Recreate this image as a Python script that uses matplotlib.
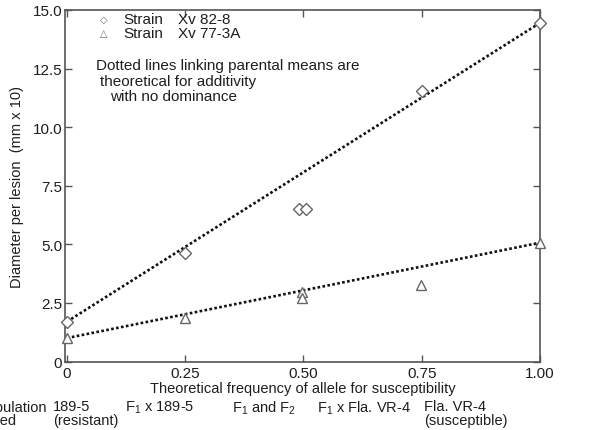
import numpy as np
from matplotlib import pyplot as plt

plt.rcParams['font.family'] = ['Liberation Sans', 'DejaVu Sans']
plt.rcParams['mathtext.default'] = 'regular'

# data
freq_828 = [0.0, 0.25, 0.49, 0.505, 0.75, 1.0]
diam_828 = [1.7, 4.65, 6.5, 6.5, 11.55, 14.45]
freq_773 = [0.0, 0.25, 0.497, 0.497, 0.748, 1.0]
diam_773 = [1.0, 1.87, 2.95, 2.7, 3.25, 5.07]

xticks = [0, 0.25, 0.5, 0.75, 1.0]
xticklabels = ['0', '0.25', '0.50', '0.75', '1.00']
yticks = [0, 2.5, 5.0, 7.5, 10.0, 12.5, 15.0]
yticklabels = ['0', '2.5', '5.0', '7.5', '10.0', '12.5', '15.0']

populations = ['189-5\n(resistant)', r'F$_1$ x 189-5', r'F$_1$ and F$_2$',
               r'F$_1$ x Fla. VR-4', 'Fla. VR-4\n(susceptible)']

W, H = 602, 431
ink = '#1e1e1e'

fig = plt.figure(figsize=(W / 100, H / 100), dpi=100)
ax = fig.add_axes([65 / W, 1 - 362.5 / H, 475 / W, 351.5 / H])


def px(x, y):
    return x / W, 1 - y / H


# dotted lines linking parental means
ax.plot([freq_828[0], freq_828[-1]], [diam_828[0], diam_828[-1]],
        color='#111', lw=1.9, ls=(0, (1, 0.9)), zorder=2)
ax.plot([freq_773[0], freq_773[-1]], [diam_773[0], diam_773[-1]],
        color='#111', lw=1.9, ls=(0, (1, 0.9)), zorder=2)

ax.plot(freq_828, diam_828, 'D', ms=6, mfc='white', mec='#666', mew=1.0,
        ls='none', zorder=3, clip_on=False)
ax.plot(freq_773, diam_773, '^', ms=6.5, mfc='white', mec='#666', mew=1.0,
        ls='none', zorder=3, clip_on=False)

ax.set_xlim(-0.004, 1.0)
ax.set_ylim(0, 15.0)
ax.set_xticks(xticks)
ax.set_xticklabels(xticklabels)
ax.set_yticks(yticks)
ax.set_yticklabels(yticklabels)
ax.tick_params(direction='in', top=True, right=True, length=5, width=1,
               color='#555', labelsize=11, labelcolor=ink)
ax.tick_params(axis='y', pad=2)
ax.tick_params(axis='x', pad=3)
for s in ax.spines.values():
    s.set_color('#555')
    s.set_linewidth(1.2)

ax.set_xlabel('Theoretical frequency of allele for susceptibility',
              fontsize=10.5, color=ink, labelpad=1)
ax.set_ylabel('Diameter per lesion  (mm x 10)', fontsize=10.5, color=ink,
              labelpad=6)

# legend drawn as text the way it is in the figure
fig.text(*px(104, 20), '\u25c7', fontsize=7, color='#666', ha='center',
         va='center', family='DejaVu Sans')
fig.text(*px(104, 34), '\u25b3', fontsize=7, color='#666', ha='center',
         va='center', family='DejaVu Sans')
fig.text(*px(123, 20), 'Strain', fontsize=11, color=ink, va='center')
fig.text(*px(123, 34), 'Strain', fontsize=11, color=ink, va='center')
fig.text(*px(178, 20), 'Xv 82-8', fontsize=11, color=ink, va='center')
fig.text(*px(178, 34), 'Xv 77-3A', fontsize=11, color=ink, va='center')

fig.text(*px(96, 66), 'Dotted lines linking parental means are',
         fontsize=11, color=ink, va='center')
fig.text(*px(100, 82), 'theoretical for additivity', fontsize=11,
         color=ink, va='center')
fig.text(*px(110, 97), 'with no dominance', fontsize=11, color=ink,
         va='center')

# population labels below the axis (cut at the left edge as in the scan)
fig.text(*px(-22, 408), 'Population', fontsize=10.5, color=ink, va='center')
fig.text(*px(-23, 421), 'tested', fontsize=10.5, color=ink, va='center')
pop_x = [53, 125, 232, 317, 424]
pop_y = [414, 408, 408, 408, 414]
for lab, x, y in zip(populations, pop_x, pop_y):
    fig.text(*px(x, y), lab, fontsize=10.5, color=ink, va='center',
             ha='left', linespacing=0.95)

plt.savefig('out.png', dpi=100)
